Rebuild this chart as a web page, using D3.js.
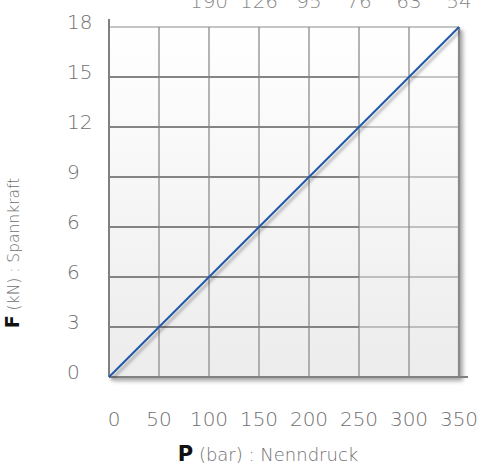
<!DOCTYPE html>
<html>
<head>
<meta charset="utf-8">
<script src="https://cdn.jsdelivr.net/npm/d3@7"></script>
<style>
  body { margin: 0; background: #fff; }
  svg text { font-family: "DejaVu Sans", sans-serif; }
  .tick-label { font-weight: 200; }
  .title-light { font-weight: 200; }
</style>
</head>
<body>
<div id="chart"></div>
<script>
// pressure axis (bar)
const pressureTicks = [0, 50, 100, 150, 200, 250, 300, 350];
// force tick labels as printed (kN), bottom to top
const forceTickLabels = ["0", "3", "6", "6", "9", "12", "15", "18"];
// secondary labels along the top edge
const topTickPressures = [100, 150, 200, 250, 300, 350];
const topTickLabels = ["190", "126", "95", "76", "63", "54"];
// the characteristic line
const linePressure = [0, 350];
const lineForce = [0, 18];

const width = 483, height = 469;
const margin = {top: 27, left: 109, right: 24, bottom: 92};
const innerW = width - margin.left - margin.right;
const innerH = height - margin.top - margin.bottom;

const svg = d3.select("#chart").append("svg")
    .attr("width", width)
    .attr("height", height);

const defs = svg.append("defs");
const grad = defs.append("linearGradient")
    .attr("id", "bg").attr("x1", 0).attr("y1", 0).attr("x2", 0).attr("y2", 1);
grad.append("stop").attr("offset", "0%").attr("stop-color", "#ffffff");
grad.append("stop").attr("offset", "100%").attr("stop-color", "#ececec");

const boxShadow = defs.append("filter").attr("id", "boxShadow")
    .attr("x", "-5%").attr("y", "-5%").attr("width", "115%").attr("height", "115%");
boxShadow.append("feDropShadow")
    .attr("dx", 4).attr("dy", 4).attr("stdDeviation", 2)
    .attr("flood-color", "#000").attr("flood-opacity", 0.35);

const lineShadow = defs.append("filter").attr("id", "lineShadow")
    .attr("x", "-10%").attr("y", "-10%").attr("width", "130%").attr("height", "130%");
lineShadow.append("feDropShadow")
    .attr("dx", 2).attr("dy", 3).attr("stdDeviation", 1.8)
    .attr("flood-color", "#000").attr("flood-opacity", 0.35);

const x = d3.scaleLinear().domain([0, 350]).range([0, innerW]);
const yRow = d3.scaleLinear().domain([0, forceTickLabels.length - 1]).range([innerH, 0]);
const y = d3.scaleLinear().domain([0, 18]).range([innerH, 0]);

const g = svg.append("g")
    .attr("transform", `translate(${margin.left},${margin.top})`);

// background box with shadow
g.append("rect")
    .attr("width", innerW).attr("height", innerH)
    .attr("fill", "url(#bg)")
    .attr("filter", "url(#boxShadow)");

// vertical grid
g.selectAll(".vgrid")
    .data(pressureTicks.slice(1, -1))
    .join("line")
    .attr("class", "vgrid")
    .attr("x1", d => x(d)).attr("x2", d => x(d))
    .attr("y1", 0).attr("y2", innerH)
    .attr("stroke", "#8c8c8c").attr("stroke-width", 1.3);

// horizontal grid
const rows = d3.range(1, forceTickLabels.length - 1);
g.selectAll(".hgrid")
    .data(rows)
    .join("line")
    .attr("class", "hgrid")
    .attr("x1", 0).attr("x2", innerW)
    .attr("y1", d => yRow(d)).attr("y2", d => yRow(d))
    .attr("stroke", "#8c8c8c").attr("stroke-width", 1.2);

// darker doubled part of the grid
g.selectAll(".hgridStrong")
    .data(rows)
    .join("line")
    .attr("class", "hgridStrong")
    .attr("x1", 0).attr("x2", x(250))
    .attr("y1", d => yRow(d)).attr("y2", d => yRow(d))
    .attr("stroke", "#848484").attr("stroke-width", 2);

// frame
g.append("line").attr("x1", 0).attr("x2", innerW).attr("y1", 0).attr("y2", 0)
    .attr("stroke", "#8c8c8c").attr("stroke-width", 1.2);
g.append("line").attr("x1", innerW).attr("x2", innerW).attr("y1", 0).attr("y2", innerH)
    .attr("stroke", "#8a8a8a").attr("stroke-width", 2.2);
g.append("line").attr("x1", 0).attr("x2", 0).attr("y1", -8).attr("y2", innerH)
    .attr("stroke", "#808080").attr("stroke-width", 2);
g.append("line").attr("x1", 0).attr("x2", innerW + 9).attr("y1", innerH).attr("y2", innerH)
    .attr("stroke", "#808080").attr("stroke-width", 2);

// the line
const line = d3.line()
    .x(d => x(d[0]))
    .y(d => y(d[1]));

g.append("path")
    .datum(d3.zip(linePressure, lineForce))
    .attr("fill", "none")
    .attr("stroke", "#2457a8")
    .attr("stroke-width", 2)
    .attr("filter", "url(#lineShadow)")
    .attr("d", line);

// y tick labels
g.selectAll(".ylab")
    .data(forceTickLabels)
    .join("text")
    .attr("class", "ylab tick-label")
    .attr("x", -42)
    .attr("y", (d, i) => yRow(i) + 2)
    .attr("fill", "#6f6f6f")
    .style("font-size", "20px")
    .text(d => d);

// x tick labels
g.selectAll(".xlab")
    .data(pressureTicks)
    .join("text")
    .attr("class", "xlab tick-label")
    .attr("x", d => x(d) + (d === 0 ? 5 : 0))
    .attr("y", innerH + 49)
    .attr("text-anchor", "middle")
    .attr("fill", "#6f6f6f")
    .style("font-size", "20px")
    .text(d => d);

// top labels (cut off by the page edge, as in the source)
g.selectAll(".toplab")
    .data(topTickLabels)
    .join("text")
    .attr("class", "toplab tick-label")
    .attr("x", (d, i) => x(topTickPressures[i]))
    .attr("y", -19)
    .attr("text-anchor", "middle")
    .attr("fill", "#888")
    .style("font-size", "20px")
    .text(d => d);

// axis titles
const xTitle = svg.append("text")
    .attr("x", 268).attr("y", 461)
    .attr("text-anchor", "middle");
xTitle.append("tspan").attr("font-weight", "bold").attr("fill", "#111")
    .style("font-size", "21px").text("P");
xTitle.append("tspan").attr("class", "title-light").attr("fill", "#6f6f6f")
    .style("font-size", "18px").text(" (bar) : Nenndruck");

const yTitle = svg.append("text")
    .attr("transform", "translate(19,253) rotate(-90)")
    .attr("text-anchor", "middle");
yTitle.append("tspan").attr("font-weight", "bold").attr("fill", "#111")
    .style("font-size", "19px").text("F");
yTitle.append("tspan").attr("class", "title-light").attr("fill", "#6f6f6f")
    .style("font-size", "15.5px").text(" (kN) : Spannkraft");
</script>
</body>
</html>
